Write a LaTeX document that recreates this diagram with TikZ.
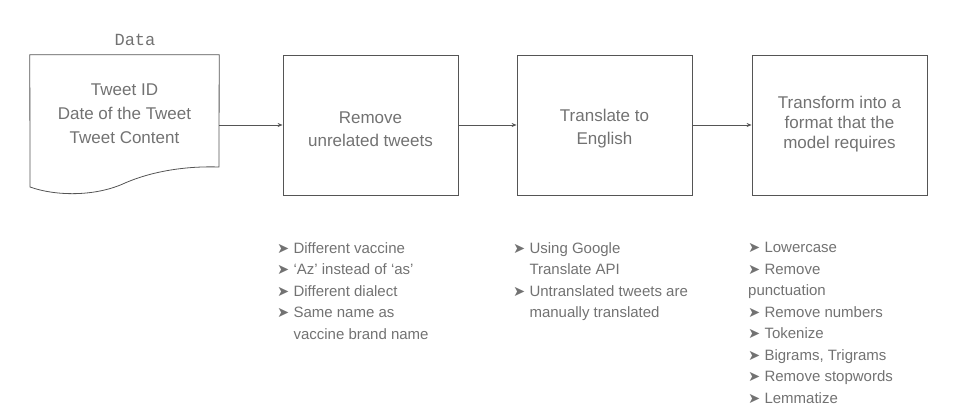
\documentclass[tikz,border=0pt]{standalone}
\usepackage{fontspec}
\setmainfont{Liberation Sans}
\newfontfamily\monofnt{Liberation Mono}
\newfontfamily\symfnt{DejaVu Sans}
\usetikzlibrary{arrows.meta}
\definecolor{txt}{HTML}{727272}
\definecolor{ln}{HTML}{555555}
\newcommand{\bul}{{\symfnt\fontsize{14.5}{14.5}\selectfont ➤}\ }
\newcommand{\ind}{\phantom{\bul}}
\tikzset{
  procbox/.style={draw=ln, line width=0.8pt, minimum width=175pt, minimum height=140pt, inner sep=0pt},
  boxtext/.style={text=txt, font=\fontsize{17}{23}\selectfont, align=center},
  listtext/.style={text=txt, font=\fontsize{15}{21.5}\selectfont, align=left, anchor=north west, inner sep=0pt},
  flow/.style={draw=ln, line width=0.8pt, -{Stealth[length=5pt,width=4pt]}}
}
\begin{document}
\begin{tikzpicture}[x=1pt,y=-1pt]
\useasboundingbox (0,0) rectangle (958,406);
% data document
\node[minimum width=189pt, minimum height=140pt, inner sep=0pt] (data) at (124.5,125) {};
\draw[ln, line width=0.8pt] (data.north west) -- (data.north east) -- (219,167)
  .. controls (190,166) and (155,170) .. (125,183)
  .. controls (95,197) and (55,196) .. (30,187) -- cycle;
\node[text=txt, font=\monofnt\fontsize{17}{20}\selectfont] (datalbl) at (135,40) {Data};
\node[boxtext, font=\fontsize{17}{24}\selectfont] (datatxt) at (124.5,114) {Tweet ID\\Date of the Tweet\\Tweet Content};
% boxes
\node[procbox] (b2) at (370.5,125) {};
\node[procbox] (b3) at (604.5,125) {};
\node[procbox] (b4) at (839.5,125) {};
\node[boxtext] (t2) at (370.5,129) {Remove\\unrelated tweets};
\node[boxtext] (t3) at (604.5,129) {Translate to\\English};
\node[boxtext, font=\fontsize{17}{20}\selectfont] (t4) at (839.5,124) {Transform into a\\format that the\\model requires};
% arrows
\draw[flow] (data.east) -- (b2.west);
\draw[flow] (b2.east) -- (b3.west);
\draw[flow] (b3.east) -- (b4.west);
% lists
\node[listtext] (l2) at (277,242) {\bul Different vaccine\\\bul `Az' instead of `as'\\\bul Different dialect\\\bul Same name as\\\ind vaccine brand name};
\node[listtext] (l3) at (513,242) {\bul Using Google\\\ind Translate API\\\bul Untranslated tweets are\\\ind manually translated};
\node[listtext] (l4) at (748,242) {\bul Lowercase\\\bul Remove\\punctuation\\\bul Remove numbers\\\bul Tokenize\\\bul Bigrams, Trigrams\\\bul Remove stopwords\\\bul Lemmatize};
\end{tikzpicture}
\end{document}
